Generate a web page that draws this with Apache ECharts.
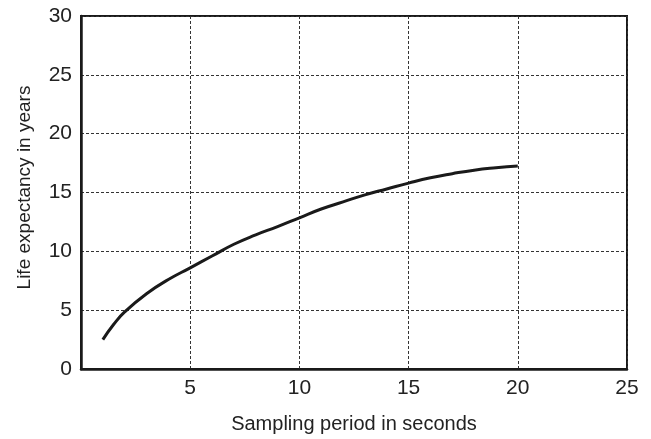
<!DOCTYPE html>
<html><head><meta charset="utf-8">
<script src="https://cdn.jsdelivr.net/npm/echarts@6/dist/echarts.min.js"></script>
<style>html,body{margin:0;padding:0;background:#fff}#c{width:651px;height:439px}</style>
</head><body><div id="c"></div>
<script>
const xValues = [1, 1.5, 2, 3, 4, 5, 6, 7, 8, 9, 10, 11, 12, 13, 14, 15, 16, 17, 18, 19, 20];
const lifeYears = [2.5, 3.8, 4.85, 6.4, 7.6, 8.6, 9.6, 10.6, 11.4, 12.1, 12.85, 13.6, 14.2, 14.8, 15.3, 15.8, 16.25, 16.6, 16.9, 17.1, 17.25];
const xName = 'Sampling period in seconds';
const yName = 'Life expectancy in years';

const chart = echarts.init(document.getElementById('c'), null, {renderer: 'canvas'});
const font = 'Liberation Sans, Arial, sans-serif';
chart.setOption({
  animation: false,
  grid: {left: 81, right: 24, top: 16, bottom: 69, show: true, borderColor: '#1a1a1a', borderWidth: 2, backgroundColor: 'transparent'},
  xAxis: {
    type: 'value', min: 0, max: 25, interval: 5,
    name: xName, nameLocation: 'middle', nameGap: 45,
    nameTextStyle: {fontFamily: font, fontSize: 20, color: '#222'},
    axisLine: {show: true, lineStyle: {color: '#1a1a1a', width: 2.5}},
    axisTick: {show: false},
    axisLabel: {fontFamily: font, fontSize: 21, color: '#222', margin: 9,
      formatter: v => v === 0 ? '' : String(v)},
    splitLine: {show: true, lineStyle: {color: '#333', type: [3, 2], width: 1}}
  },
  yAxis: {
    type: 'value', min: 0, max: 30, interval: 5,
    name: yName, nameLocation: 'middle', nameGap: 47,
    nameTextStyle: {fontFamily: font, fontSize: 19, color: '#222', padding: [0, 0, 0, 10]},
    axisLine: {show: true, lineStyle: {color: '#1a1a1a', width: 2.5}},
    axisTick: {show: false},
    axisLabel: {fontFamily: font, fontSize: 21, color: '#222', margin: 9},
    splitLine: {show: true, lineStyle: {color: '#333', type: [3, 2], width: 1}}
  },
  series: [{
    type: 'line', smooth: true, showSymbol: false,
    data: xValues.map((x, i) => [x, lifeYears[i]]),
    lineStyle: {color: '#1a1a1a', width: 3}
  }]
});
</script></body></html>
